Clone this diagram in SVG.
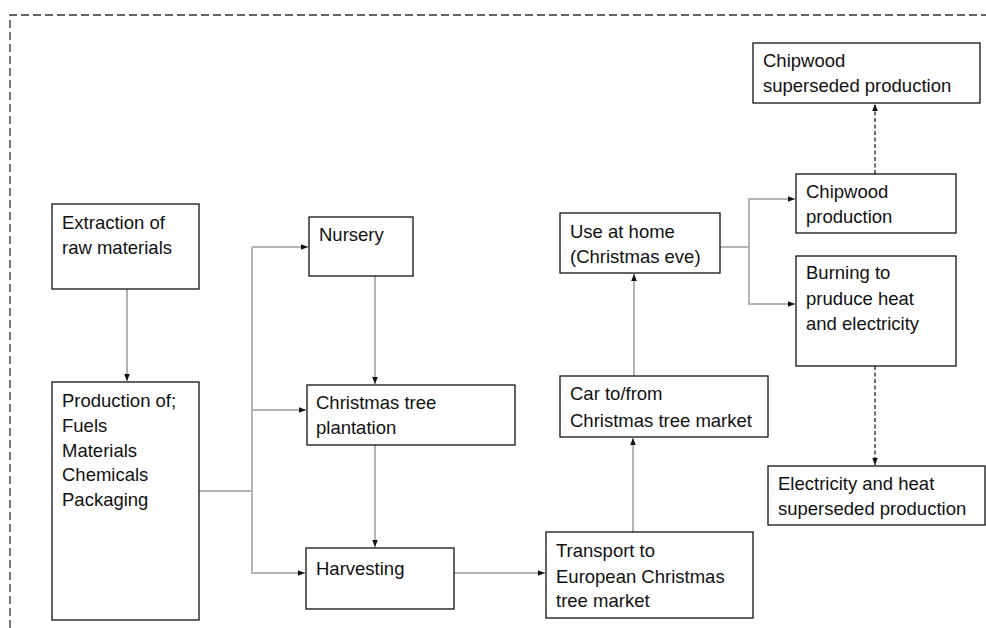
<svg xmlns="http://www.w3.org/2000/svg" width="986" height="628" viewBox="0 0 986 628">
<defs>
<marker id="ah" viewBox="0 0 10 10" refX="10" refY="5" markerWidth="7" markerHeight="7" markerUnits="userSpaceOnUse" orient="auto">
<path d="M0,1 L10,5 L0,9 Z" fill="#111"/>
</marker>
</defs>
<style>
.box{fill:#fff;stroke:#111;stroke-width:1.3}
.t{font-family:"Liberation Sans",Arial,sans-serif;font-size:18.5px;fill:#111}
.c{fill:none;stroke:#b4b4b4;stroke-width:2}
.d{fill:none;stroke:#6e6e6e;stroke-width:2;stroke-dasharray:4,2.5}
.frame{fill:none;stroke:#333;stroke-width:1.3;stroke-dasharray:8,4}
</style>
<rect width="986" height="628" fill="#fff"/>
<path class="frame" d="M10,628 L10,15 L986,15"/>
<g id="connectors">
<path class="c" d="M127,289 V381" marker-end="url(#ah)"/>
<path class="c" d="M199,491 H252 V247"/>
<path class="c" d="M252,247 H308" marker-end="url(#ah)"/>
<path class="c" d="M252,410 H306" marker-end="url(#ah)"/>
<path class="c" d="M252,491 V573 H305" marker-end="url(#ah)"/>
<path class="c" d="M375,276 V384" marker-end="url(#ah)"/>
<path class="c" d="M375,445 V547" marker-end="url(#ah)"/>
<path class="c" d="M454,573 H545" marker-end="url(#ah)"/>
<path class="c" d="M633,532 V438" marker-end="url(#ah)"/>
<path class="c" d="M634,376 V274" marker-end="url(#ah)"/>
<path class="c" d="M720,247 H749"/>
<path class="c" d="M749,247 V199 H795" marker-end="url(#ah)"/>
<path class="c" d="M749,247 V304 H795" marker-end="url(#ah)"/>
<path class="d" d="M875,174 V104" marker-end="url(#ah)"/>
<path class="d" d="M875,366 V465" marker-end="url(#ah)"/>
</g>
<g id="extraction">
<rect class="box" x="52" y="204" width="147" height="85"/>
<text class="t" x="62" y="229">Extraction of</text>
<text class="t" x="62" y="254">raw materials</text>
</g>
<g id="production">
<rect class="box" x="52" y="382" width="147" height="238"/>
<text class="t" x="62" y="407">Production of;</text>
<text class="t" x="62" y="432">Fuels</text>
<text class="t" x="62" y="457">Materials</text>
<text class="t" x="62" y="481">Chemicals</text>
<text class="t" x="62" y="506">Packaging</text>
</g>
<g id="nursery">
<rect class="box" x="309" y="217" width="104" height="59"/>
<text class="t" x="319" y="241">Nursery</text>
</g>
<g id="plantation">
<rect class="box" x="307" y="385" width="208" height="60"/>
<text class="t" x="316" y="409">Christmas tree</text>
<text class="t" x="316" y="434">plantation</text>
</g>
<g id="harvesting">
<rect class="box" x="306" y="548" width="148" height="61"/>
<text class="t" x="316" y="575">Harvesting</text>
</g>
<g id="transport">
<rect class="box" x="546" y="532" width="207" height="86"/>
<text class="t" x="556" y="557">Transport to</text>
<text class="t" x="556" y="583">European Christmas</text>
<text class="t" x="556" y="607">tree market</text>
</g>
<g id="car">
<rect class="box" x="560" y="376" width="208" height="61"/>
<text class="t" x="570" y="400">Car to/from</text>
<text class="t" x="570" y="427">Christmas tree market</text>
</g>
<g id="home">
<rect class="box" x="560" y="213" width="160" height="60"/>
<text class="t" x="570" y="238">Use at home</text>
<text class="t" x="570" y="263">(Christmas eve)</text>
</g>
<g id="chipwood-superseded">
<rect class="box" x="753" y="43" width="227" height="60"/>
<text class="t" x="763" y="67">Chipwood</text>
<text class="t" x="763" y="92">superseded production</text>
</g>
<g id="chipwood-production">
<rect class="box" x="796" y="174" width="160" height="59"/>
<text class="t" x="806" y="198">Chipwood</text>
<text class="t" x="806" y="223">production</text>
</g>
<g id="burning">
<rect class="box" x="796" y="256" width="160" height="110"/>
<text class="t" x="806" y="279">Burning to</text>
<text class="t" x="806" y="305">pruduce heat</text>
<text class="t" x="806" y="330">and electricity</text>
</g>
<g id="electricity-superseded">
<rect class="box" x="768" y="466" width="217" height="59"/>
<text class="t" x="778" y="490">Electricity and heat</text>
<text class="t" x="778" y="515">superseded production</text>
</g>
</svg>
